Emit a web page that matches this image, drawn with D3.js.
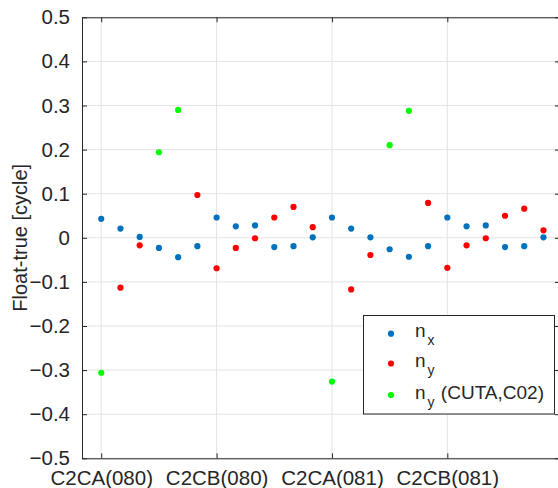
<!DOCTYPE html>
<html>
<head>
<meta charset="utf-8">
<script src="https://cdn.jsdelivr.net/npm/d3@7"></script>
<style>
  html, body { margin: 0; padding: 0; background: #fff; }
  svg { display: block; font-family: "Liberation Sans", Arial, Helvetica, sans-serif; }
</style>
</head>
<body>
<svg id="chart" width="558" height="488"></svg>
<script>
// ---- data ----
const categories = ["C2CA(080)", "C2CB(080)", "C2CA(081)", "C2CB(081)"];
const categoryPositions = [1, 7, 13, 19];
const positions = d3.range(1, 25);
const nxValues = [0.043, 0.021, 0.002, -0.023, -0.044, -0.019, 0.046, 0.026, 0.028, -0.021, -0.019, 0.001,
                  0.046, 0.021, 0.001, -0.026, -0.043, -0.019, 0.046, 0.026, 0.028, -0.021, -0.019, 0.001];
const nyValues = [null, -0.113, -0.017, null, null, 0.097, -0.069, -0.023, -0.001, 0.046, 0.070, 0.024,
                  null, -0.117, -0.039, null, null, 0.079, -0.068, -0.017, -0.001, 0.050, 0.066, 0.017];
const cutaPositions = [1, 4, 5, 13, 16, 17];
const cutaValues = [-0.306, 0.194, 0.290, -0.326, 0.210, 0.288];
const yTicks = [-0.5, -0.4, -0.3, -0.2, -0.1, 0, 0.1, 0.2, 0.3, 0.4, 0.5];
const seriesNames = ["x", "y", "y"];
const seriesSuffix = ["", "", " (CUTA,C02)"];
const seriesColors = ["#0072BD", "#FF0000", "#00FF00"];

// ---- layout ----
const L = 82, R = 560, T = 17.3, B = 458.3;
const svg = d3.select("#chart");
const x = d3.scaleLinear().domain([0, 24.86]).range([L, R]);
const y = d3.scaleLinear().domain([-0.5, 0.5]).range([B, T]);
const axisColor = "#262626";
const gridColor = "#e3e3e3";

// grid
svg.append("g").selectAll("line.h").data(yTicks).join("line")
  .attr("x1", L).attr("x2", R).attr("y1", d => y(d)).attr("y2", d => y(d))
  .attr("stroke", gridColor).attr("stroke-width", 1);
svg.append("g").selectAll("line.v").data(categoryPositions).join("line")
  .attr("y1", T).attr("y2", B).attr("x1", d => x(d)).attr("x2", d => x(d))
  .attr("stroke", gridColor).attr("stroke-width", 1);

// axes
const fmt = d => (d === 0 ? "0" : d3.format(".1f")(d));
const yAxisL = d3.axisLeft(y).tickValues(yTicks).tickFormat(fmt).tickSizeInner(-5).tickSizeOuter(0).tickPadding(12);
const yAxisR = d3.axisRight(y).tickValues(yTicks).tickFormat("").tickSizeInner(-5).tickSizeOuter(0);
const xAxisB = d3.axisBottom(x).tickValues(categoryPositions).tickFormat((d, i) => categories[i]).tickSizeInner(-5).tickSizeOuter(0).tickPadding(12);
const xAxisT = d3.axisTop(x).tickValues(categoryPositions).tickFormat("").tickSizeInner(-5).tickSizeOuter(0);

function style(g) {
  g.selectAll("path").attr("stroke", axisColor).attr("stroke-width", 1);
  g.selectAll("line").attr("stroke", axisColor);
  g.selectAll("text").attr("fill", axisColor).style("font-size", "20.5px")
    .style("font-family", "'Liberation Sans', Arial, sans-serif");
}
svg.append("g").attr("transform", `translate(${L},0)`).call(yAxisL).call(style);
svg.append("g").attr("transform", `translate(${R},0)`).call(yAxisR).call(style);
svg.append("g").attr("transform", `translate(0,${B})`).call(xAxisB).call(style)
  .selectAll("text").attr("dy", "0.71em").attr("y", 12);
svg.append("g").attr("transform", `translate(0,${T})`).call(xAxisT).call(style);

// y label
svg.append("text")
  .attr("transform", `translate(27,${(T + B) / 2}) rotate(-90)`)
  .attr("text-anchor", "middle")
  .attr("fill", axisColor)
  .style("font-size", "20px")
  .text("Float-true [cycle]");

// points
const r = 3.1;
svg.append("g").selectAll("circle").data(positions.map((p, i) => [p, nxValues[i]])).join("circle")
  .attr("cx", d => x(d[0])).attr("cy", d => y(d[1])).attr("r", r).attr("fill", seriesColors[0]);
svg.append("g").selectAll("circle").data(positions.map((p, i) => [p, nyValues[i]]).filter(d => d[1] !== null)).join("circle")
  .attr("cx", d => x(d[0])).attr("cy", d => y(d[1])).attr("r", r).attr("fill", seriesColors[1]);
svg.append("g").selectAll("circle").data(cutaPositions.map((p, i) => [p, cutaValues[i]])).join("circle")
  .attr("cx", d => x(d[0])).attr("cy", d => y(d[1])).attr("r", r).attr("fill", seriesColors[2]);

// legend
const lg = svg.append("g");
lg.append("rect").attr("x", 363.5).attr("y", 315.5).attr("width", 191).attr("height", 98.5)
  .attr("fill", "#fff").attr("stroke", axisColor).attr("stroke-width", 1);
const rowY = [333.7, 363.5, 395];
seriesNames.forEach((s, i) => {
  lg.append("circle").attr("cx", 391).attr("cy", rowY[i]).attr("r", r).attr("fill", seriesColors[i]);
  const t = lg.append("text").attr("x", 415).attr("y", rowY[i] + 3.5)
    .attr("fill", axisColor).style("font-size", "19px");
  t.append("tspan").text("n");
  t.append("tspan").attr("dx", 2).attr("dy", 8).style("font-size", "14px").text(s);
  if (seriesSuffix[i]) t.append("tspan").attr("dy", -8).attr("dx", 1).style("font-size", "19px").text(seriesSuffix[i]);
});
</script>
</body>
</html>
